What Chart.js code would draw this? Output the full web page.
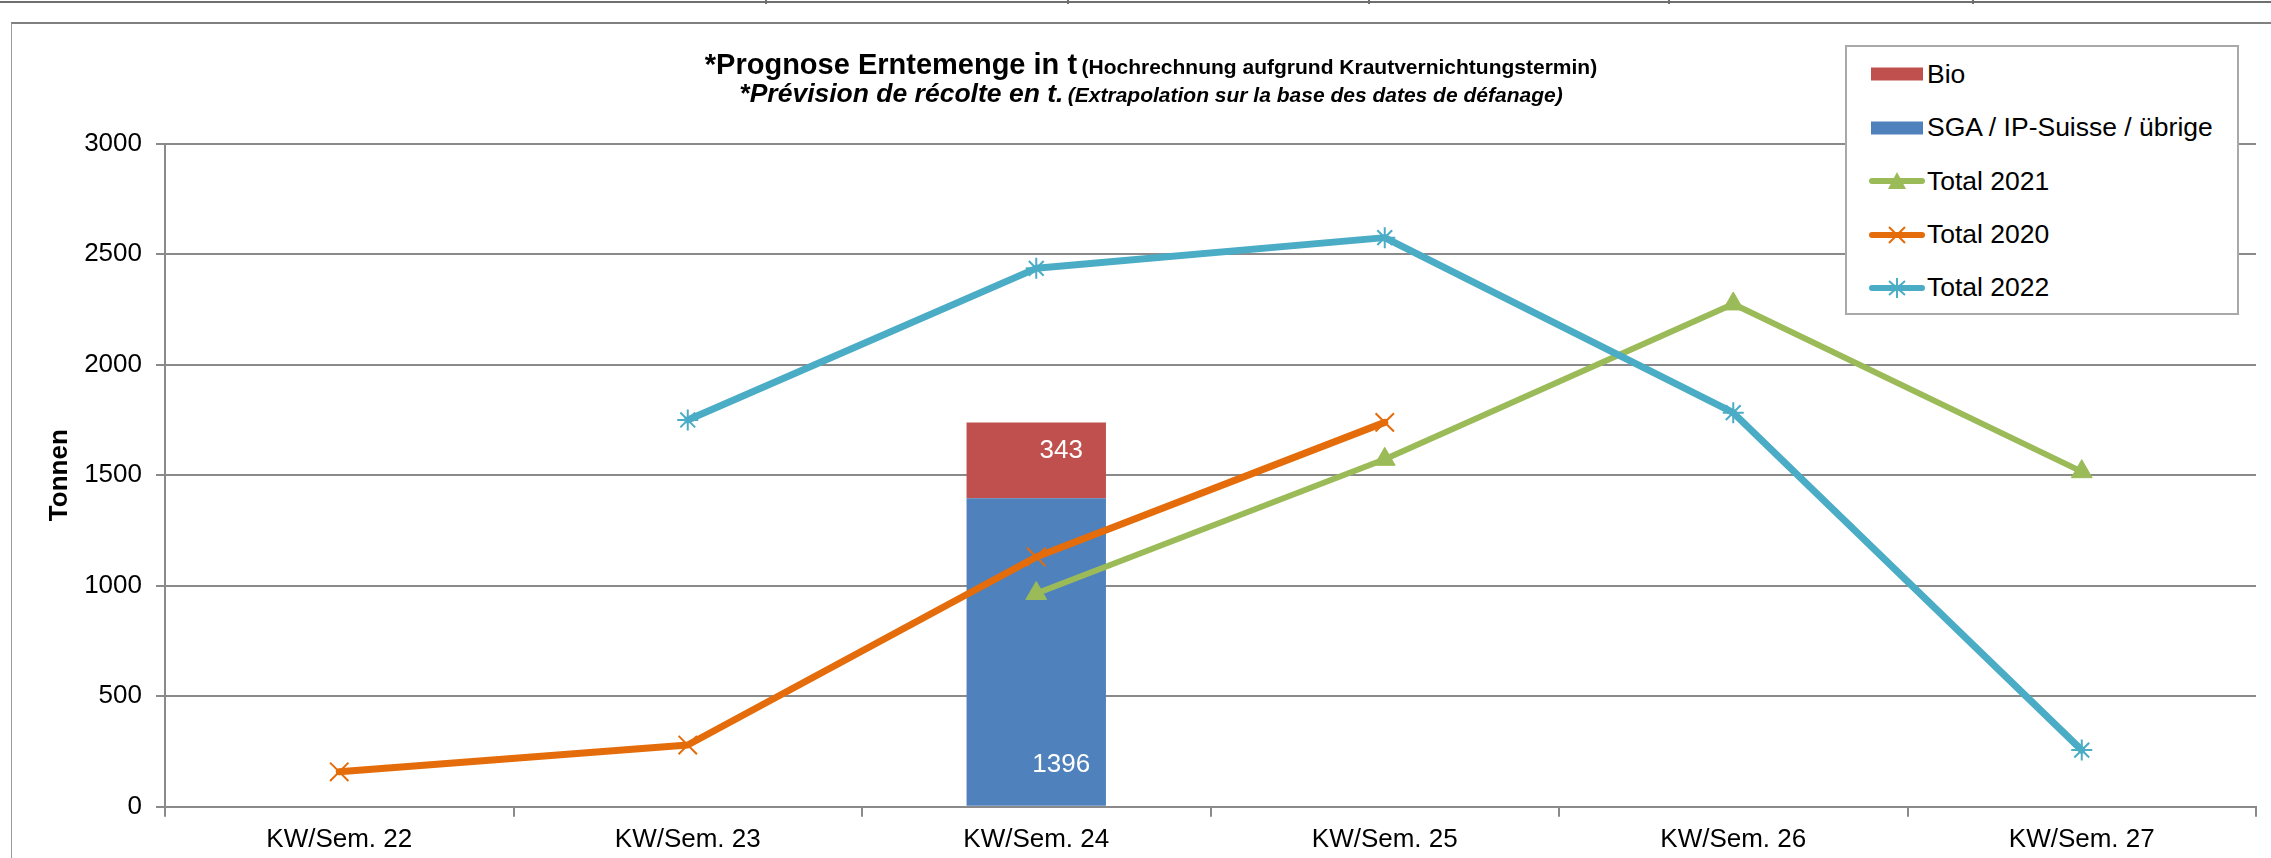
<!DOCTYPE html>
<html>
<head>
<meta charset="utf-8">
<script src="https://cdn.jsdelivr.net/npm/chart.js@4.4.0/dist/chart.umd.min.js"></script>
<style>
    body { margin: 0; background: #ffffff; font-family: "Liberation Sans", Arial, sans-serif; }
    #wrap { position: absolute; left: 0; top: 0; width: 2271px; height: 858px; overflow: hidden; }
    #chartBox { position: absolute; left: 0; top: 0; width: 2271px; height: 858px; }
    .topRule { position: absolute; left: 0; top: 1px; width: 2271px; height: 2px; background: #6f6f6f; }
    .sep { position: absolute; top: 0; width: 2px; height: 4px; background: #6f6f6f; }
    .frameTop { position: absolute; left: 11px; top: 22px; width: 2260px; height: 2px; background: #808080; }
    .frameLeft { position: absolute; left: 11px; top: 23px; width: 1px; height: 835px; background: #9a9a9a; }
    #title { position: absolute; left: 651px; top: 50px; width: 1000px; text-align: center;
             font-weight: bold; color: #000; white-space: nowrap; z-index: 2; }
    #title div { height: 29px; line-height: 29px; }
    #title span { line-height: 29px; }
    #title .big1 { font-size: 29px; }
    #title .big2 { font-size: 26.5px; }
    #title .small { font-size: 21px; }
    #title .l2 { font-style: italic; }
    #legend { position: absolute; left: 1845px; top: 45px; width: 394px; height: 270px; box-sizing: border-box;
              border: 2px solid #a9a9a9; background: #ffffff; z-index: 2; }
    .item { position: absolute; left: 0; height: 40px; display: flex; align-items: center; }
    .item svg { margin-left: 21px; }
    .item span { position: absolute; left: 80px; font-size: 26.5px; color: #000; white-space: nowrap; }
</style>
</head>
<body>
<div id="wrap">
    <div class="topRule"></div>
    <div class="sep" style="left:765px"></div>
    <div class="sep" style="left:1067px"></div>
    <div class="sep" style="left:1368px"></div>
    <div class="sep" style="left:1668px"></div>
    <div class="sep" style="left:1972px"></div>
    <div class="frameTop"></div>
    <div class="frameLeft"></div>
    <div id="chartBox"><canvas id="harvestChart"></canvas></div>
    <div id="title">
        <div><span class="big1">*Prognose Erntemenge in t</span> <span class="small">(Hochrechnung aufgrund Krautvernichtungstermin)</span></div>
        <div class="l2"><span class="big2">*Prévision de récolte en t.</span> <span class="small">(Extrapolation sur la base des dates de défanage)</span></div>
    </div>
    <div id="legend"></div>
</div>

<script>
// Category labels (weeks)
const weekLabels = ["KW/Sem. 22", "KW/Sem. 23", "KW/Sem. 24", "KW/Sem. 25", "KW/Sem. 26", "KW/Sem. 27"];

// Stacked bar values
const sgaValues = [null, null, 1396, null, null, null];
const bioValues = [null, null, 343, null, null, null];

// Line series
const total2021 = [null, null, 965, 1572, 2275, 1516];
const total2020 = [158, 279, 1130, 1739, null, null];
const total2022 = [null, 1750, 2436, 2575, 1783, 256];

// Y axis ticks
const yTicks = [0, 500, 1000, 1500, 2000, 2500, 3000];

const gridColor = "#8a8a8a";
const fontFamily = "'Liberation Sans', Arial, sans-serif";

// white value labels inside the stacked bar
const barLabels = {
    id: "barLabels",
    afterDatasetsDraw(chart) {
        const ctx = chart.ctx;
        ctx.save();
        ctx.font = "26px " + fontFamily;
        ctx.fillStyle = "#ffffff";
        ctx.textAlign = "center";
        ctx.textBaseline = "middle";
        chart.data.datasets.forEach((ds, i) => {
            if (ds.type !== "bar") return;
            const meta = chart.getDatasetMeta(i);
            meta.data.forEach((bar, j) => {
                const v = ds.data[j];
                if (v === null) return;
                // top segment: label near its top, bottom segment: label near its base
                const y = ds.label === "Bio" ? bar.y + 28 : bar.base - 41;
                ctx.fillText(String(v), bar.x + 25, y);
            });
        });
        ctx.restore();
    }
};

document.addEventListener("DOMContentLoaded", () => {
    const ctx = document.getElementById("harvestChart").getContext("2d");

    const chart = new Chart(ctx, {
        type: "bar",
        data: {
            labels: weekLabels,
            datasets: [
                {
                    type: "bar",
                    label: "SGA / IP-Suisse / übrige",
                    data: sgaValues,
                    backgroundColor: "#4F81BD",
                    barPercentage: 0.4,
                    categoryPercentage: 1,
                    order: 10
                },
                {
                    type: "bar",
                    label: "Bio",
                    data: bioValues,
                    backgroundColor: "#C0504D",
                    barPercentage: 0.4,
                    categoryPercentage: 1,
                    order: 10
                },
                {
                    type: "line",
                    label: "Total 2021",
                    data: total2021,
                    stack: "s2021",
                    borderColor: "#9BBB59",
                    backgroundColor: "#9BBB59",
                    borderWidth: 6,
                    pointStyle: "triangle",
                    pointRadius: 12,
                    pointBorderWidth: 1,
                    borderJoinStyle: "round",
                    borderCapStyle: "round",
                    order: 3
                },
                {
                    type: "line",
                    label: "Total 2020",
                    data: total2020,
                    stack: "s2020",
                    borderColor: "#E46C0A",
                    backgroundColor: "#E46C0A",
                    borderWidth: 7,
                    pointStyle: "crossRot",
                    pointRadius: 13,
                    pointBorderWidth: 2,
                    borderJoinStyle: "round",
                    borderCapStyle: "round",
                    order: 2
                },
                {
                    type: "line",
                    label: "Total 2022",
                    data: total2022,
                    stack: "s2022",
                    borderColor: "#4BACC6",
                    backgroundColor: "#4BACC6",
                    borderWidth: 7,
                    pointStyle: "star",
                    pointRadius: 10.5,
                    pointBorderWidth: 2,
                    borderJoinStyle: "round",
                    borderCapStyle: "round",
                    order: 1
                }
            ]
        },
        options: {
            responsive: true,
            maintainAspectRatio: false,
            animation: false,
            layout: {
                padding: { left: 0, top: 143.7, right: 9, bottom: 0 }
            },
            plugins: {
                legend: { display: false },
                title: { display: false },
                tooltip: { enabled: false }
            },
            scales: {
                x: {
                    stacked: true,
                    grid: {
                        offset: true,
                        drawOnChartArea: false,
                        drawTicks: true,
                        tickLength: 10,
                        color: gridColor,
                        lineWidth: 2
                    },
                    border: { display: true, color: gridColor, width: 2 },
                    ticks: {
                        color: "#000",
                        font: { family: fontFamily, size: 26 },
                        padding: 8,
                        maxRotation: 0,
                        autoSkip: false
                    },
                    afterFit: (scale) => { scale.height = 51.3; }
                },
                y: {
                    stacked: true,
                    min: yTicks[0],
                    max: yTicks[yTicks.length - 1],
                    afterBuildTicks: (scale) => { scale.ticks = yTicks.map(v => ({ value: v })); },
                    grid: {
                        color: gridColor,
                        lineWidth: 2,
                        drawTicks: true,
                        tickLength: 9
                    },
                    border: { display: true, color: gridColor, width: 2 },
                    ticks: {
                        color: "#000",
                        font: { family: fontFamily, size: 26 },
                        padding: 14,
                        callback: (value) => String(value)
                    },
                    title: {
                        display: true,
                        text: "Tonnen",
                        color: "#000",
                        font: { family: fontFamily, size: 26, weight: "bold" },
                        padding: { top: 44, bottom: 0 }
                    },
                    afterFit: (scale) => { scale.width = 165; }
                }
            }
        },
        plugins: [barLabels]
    });

    // HTML legend built from the datasets
    const legendOrder = ["Bio", "SGA / IP-Suisse / übrige", "Total 2021", "Total 2020", "Total 2022"];
    const legend = document.getElementById("legend");
    legendOrder.forEach((name, i) => {
        const ds = chart.data.datasets.find(d => d.label === name);
        const c = ds.borderColor || ds.backgroundColor;
        let svg;
        if (ds.type === "bar") {
            svg = `<svg width="58" height="24"><rect x="3" y="5.5" width="52" height="13" fill="${ds.backgroundColor}"/></svg>`;
        } else {
            let mark = "";
            if (ds.pointStyle === "triangle") {
                mark = `<polygon points="29,3 20,20 38,20" fill="${c}"/>`;
            } else if (ds.pointStyle === "crossRot") {
                mark = `<path d="M21,4 L37,20 M37,4 L21,20" stroke="${c}" stroke-width="2"/>`;
            } else {
                mark = `<path d="M29,2 L29,22 M21,5 L37,19 M37,5 L21,19" stroke="${c}" stroke-width="2"/>`;
            }
            svg = `<svg width="58" height="24"><line x1="4" y1="12" x2="54" y2="12" stroke="${c}" stroke-width="6" stroke-linecap="round"/>${mark}</svg>`;
        }
        const row = document.createElement("div");
        row.className = "item";
        row.style.top = (7.3 + i * 53.4) + "px";
        row.innerHTML = svg + `<span>${name}</span>`;
        legend.appendChild(row);
    });
});
</script>
</body>
</html>
